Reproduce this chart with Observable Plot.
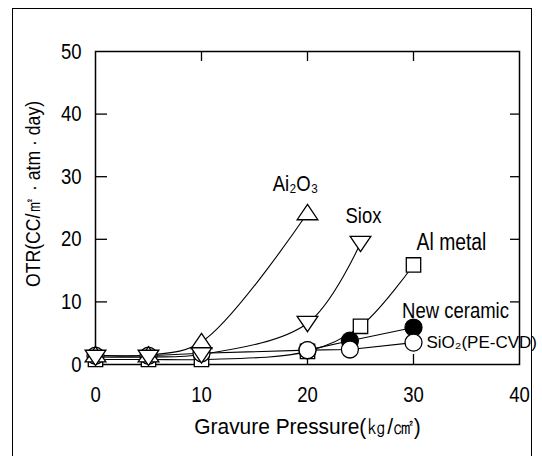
<!DOCTYPE html>
<html>
<head>
<meta charset="utf-8">
<script src="https://cdn.jsdelivr.net/npm/d3@7"></script>
<script src="https://cdn.jsdelivr.net/npm/@observablehq/plot@0.6"></script>
<style>
  html, body { margin: 0; padding: 0; background: #fff; }
  #wrap { position: relative; width: 542px; height: 456px; overflow: hidden; }
  #border { position: absolute; left: 12px; top: 8px; width: 520px; height: 470px; border: 1.5px solid #000; box-sizing: border-box; }
  #chart { position: absolute; left: 0; top: 0; }
</style>
</head>
<body>
<div id="wrap"><div id="border"></div><div id="chart"></div></div>
<script>
// ---- data ----
const xTicks = [0, 10, 20, 30, 40];
const yTicks = [0, 10, 20, 30, 40, 50];
const innerXTicks = [10, 20, 30];
const innerYTicks = [10, 20, 30, 40];

const al2o3X = [0, 5, 10, 20];
const al2o3Y = [1.5, 1.5, 3.6, 24.2];
const sioxX = [0, 5, 10, 20, 25];
const sioxY = [1.2, 1.2, 1.6, 6.6, 19.4];
const alMetalX = [0, 5, 10, 20, 25, 30];
const alMetalY = [0.8, 0.8, 0.8, 2.1, 6.1, 15.9];
const newCeramicX = [20, 24, 30];
const newCeramicY = [2.3, 3.8, 5.9];
const sio2X = [0, 5, 10, 20, 24, 30];
const sio2Y = [1.4, 1.4, 1.8, 2.3, 2.4, 3.5];

const seriesNames = ["Ai₂O₃", "Siox", "Al metal", "New ceramic", "SiO₂(PE-CVD)"];
const xTitle = "Gravure Pressure(㎏/㎠)";
const yTitle = "OTR(CC/㎡ · atm · day)";

// ---- build table ----
const raw = [
  [al2o3X, al2o3Y], [sioxX, sioxY], [alMetalX, alMetalY],
  [newCeramicX, newCeramicY], [sio2X, sio2Y]
];
const rows = [];
raw.forEach(([xs, ys], i) => xs.forEach((x, j) => rows.push({series: seriesNames[i], x, y: ys[j], last: j === xs.length - 1})));
const bySeries = name => rows.filter(d => d.series === name);
const lastOf = name => rows.filter(d => d.last && d.series === name);

// ---- custom symbols ----
const triUp = {draw(c, size) { const r = Math.sqrt(size / Math.PI); c.moveTo(0, -r * 0.95); c.lineTo(r * 1.15, r * 0.75); c.lineTo(-r * 1.15, r * 0.75); c.closePath(); }};
const triDown = {draw(c, size) { const r = Math.sqrt(size / Math.PI); c.moveTo(0, r * 0.95); c.lineTo(r * 1.15, -r * 0.75); c.lineTo(-r * 1.15, -r * 0.75); c.closePath(); }};
const square = {draw(c, size) { const r = Math.sqrt(size / Math.PI) * 0.8; c.rect(-r, -r, 2 * r, 2 * r); }};

const W = 542, H = 456, ML = 95, MR = 23, MT = 51, MB = 92;
const innerW = W - ML - MR, innerH = H - MT - MB;
const font = "'Liberation Sans', Arial, sans-serif";
const FS = 22;

const lineOpts = (curve) => ({x: "x", y: "y", stroke: "#000", strokeWidth: 1.1, curve});
const dotOpts = (symbol, fill, r) => ({x: "x", y: "y", symbol, fill, stroke: "#000", strokeWidth: 1.3, r});

const chart = Plot.plot({
  width: W, height: H,
  marginLeft: ML, marginRight: MR, marginTop: MT, marginBottom: MB,
  style: {fontFamily: font, fontSize: FS + "px", color: "#000", background: "transparent"},
  x: {domain: [0, 40], label: null},
  y: {domain: [0, 50], label: null},
  marks: [
    Plot.frame({stroke: "#000", strokeWidth: 1.5}),
    // inward ticks
    Plot.tickY(innerYTicks, {y: d => d, stroke: "#000", strokeWidth: 1.3, insetRight: innerW - 12}),
    Plot.tickY(innerYTicks, {y: d => d, stroke: "#000", strokeWidth: 1.3, insetLeft: innerW - 9}),
    Plot.tickX(innerXTicks, {x: d => d, stroke: "#000", strokeWidth: 1.3, insetBottom: innerH - 10}),
    Plot.tickX(innerXTicks, {x: d => d, stroke: "#000", strokeWidth: 1.3, insetTop: innerH - 10}),
    // tick labels
    Plot.axisY({ticks: yTicks, tickSize: 0, tickPadding: 14, fontSize: FS, label: null}),
    Plot.axisX({ticks: xTicks, tickSize: 0, tickPadding: 22, fontSize: FS, label: null}),
    // axis titles
    Plot.text([xTitle], {text: d => d, frameAnchor: "bottom", textAnchor: "middle", dy: 69, fontSize: FS}),
    Plot.text([yTitle], {text: d => d, frameAnchor: "left", textAnchor: "middle", rotate: -90, dx: -62, dy: -14, fontSize: 21}),
    // lines
    Plot.line(bySeries("Al metal"), lineOpts("catmull-rom")),
    Plot.line(bySeries("New ceramic"), lineOpts("linear")),
    Plot.line(bySeries("SiO₂(PE-CVD)"), lineOpts("linear")),
    Plot.line(bySeries("Ai₂O₃"), lineOpts("catmull-rom")),
    Plot.line(bySeries("Siox"), lineOpts("catmull-rom")),
    // markers
    Plot.dot(bySeries("Al metal"), dotOpts(square, "#fff", 9)),
    Plot.dot(bySeries("New ceramic"), dotOpts("circle", "#000", 8.5)),
    Plot.dot(bySeries("SiO₂(PE-CVD)"), dotOpts("circle", "#fff", 8.5)),
    Plot.dot(bySeries("Ai₂O₃"), dotOpts(triUp, "#fff", 9)),
    Plot.dot(bySeries("Siox"), dotOpts(triDown, "#fff", 9)),
    // series labels
    Plot.text(lastOf("Ai₂O₃"), {x: "x", y: "y", text: "series", dx: -12, dy: -29, fontSize: FS}),
    Plot.text(lastOf("Siox"), {x: "x", y: "y", text: "series", dx: 3, dy: -27, fontSize: FS}),
    Plot.text(lastOf("Al metal"), {x: "x", y: "y", text: "series", dx: 38, dy: -22, fontSize: 23}),
    Plot.text(lastOf("New ceramic"), {x: "x", y: "y", text: "series", dx: 42, dy: -17, fontSize: FS}),
    Plot.text(lastOf("SiO₂(PE-CVD)"), {x: "x", y: "y", text: "series", dx: 13, dy: 0, textAnchor: "start", fontSize: 17})
  ]
});
document.getElementById("chart").appendChild(chart);
// condense glyphs to match the narrow typeface of the original (keeping the anchor point)
chart.querySelectorAll("text").forEach(t => {
  if (t.textContent === "SiO₂(PE-CVD)") return;
  const L = t.getComputedTextLength();
  if (!(L > 0)) return;
  const k = t.textContent === xTitle ? 0.95 : 0.84;
  const nL = L * k;
  const anchor = getComputedStyle(t).textAnchor;
  t.setAttribute("textLength", nL.toFixed(1));
  t.setAttribute("lengthAdjust", "spacingAndGlyphs");
  t.style.textAnchor = "start";
  const shift = anchor === "middle" ? -nL / 2 : anchor === "end" ? -nL : 0;
  t.setAttribute("dx", shift.toFixed(1));
});
</script>
</body>
</html>
